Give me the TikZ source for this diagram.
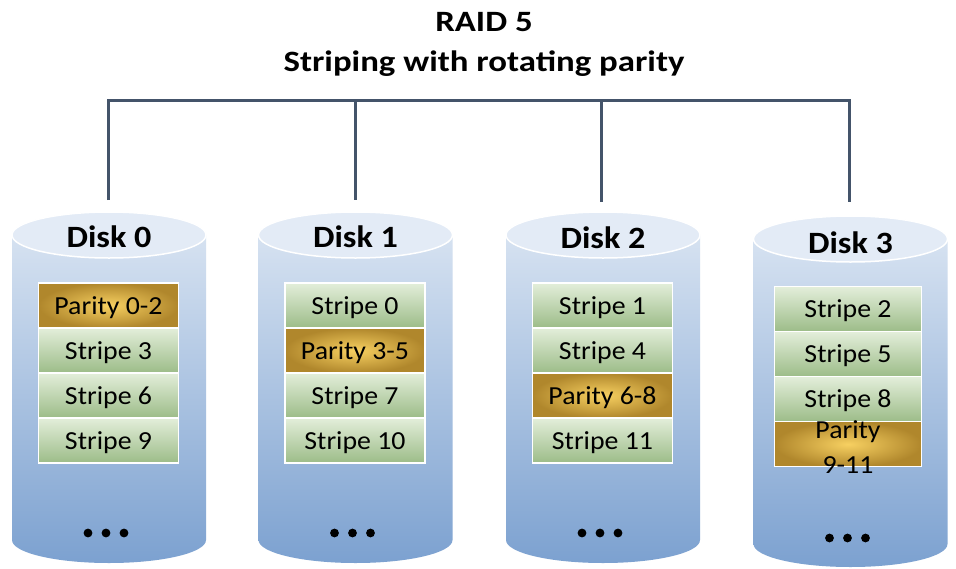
\documentclass[tikz,border=0pt]{standalone}
\usepackage{fontspec}
\setmainfont{Carlito}
\newfontfamily\titlefam[FakeStretch=1.18]{Carlito}
\newfontfamily\diskfam[FakeStretch=1.10]{Carlito}
\newfontfamily\blockfam[FakeStretch=1.07]{Carlito}
\definecolor{linecol}{HTML}{44546A}
\definecolor{diskTop}{HTML}{D6E2F1}
\definecolor{diskBot}{HTML}{7CA1D0}
\definecolor{diskCap}{HTML}{E3EBF6}
\definecolor{stripeTop}{HTML}{E3EEDA}
\definecolor{stripeBot}{HTML}{9CBC88}
\definecolor{parIn}{HTML}{F7D061}
\definecolor{parOut}{HTML}{B0872C}
\newcommand\mydisk[3]{% cx, top ellipse centre y, bottom ellipse centre y
  \shade[top color=diskTop,bottom color=diskBot]
    (#1-97,#2) -- (#1-97,#3)
    arc[start angle=180,end angle=360,x radius=97pt,y radius=23pt]
    -- (#1+97,#2) -- cycle;
  \draw[fill=diskCap,draw=white,line width=1.5pt] (#1,#2) ellipse [x radius=97pt,y radius=23pt];
}
\newcommand\mydots[2]{%
  \fill (#1-21,#2) circle (4.4pt) (#1-3,#2) circle (4.4pt) (#1+15,#2) circle (4.4pt);
}
\begin{document}
\begin{tikzpicture}[x=1pt,y=-1pt,
  linec/.style={draw=linecol,line width=3pt},
  titletext/.style={font=\titlefam\bfseries\fontsize{29.5}{34}\selectfont,anchor=base,inner sep=0pt},
  disklabel/.style={font=\diskfam\bfseries\fontsize{31}{38}\selectfont,anchor=base,inner sep=0pt},
  blockbase/.style={draw=white,line width=1.5pt,minimum height=45pt,inner sep=0pt,
    text height=17pt,text depth=0pt,font=\blockfam\fontsize{26}{30}\selectfont},
  stripebox/.style={blockbase,top color=stripeTop,bottom color=stripeBot},
  paritybox/.style={blockbase,inner color=parIn,outer color=parOut},
  plaintext/.style={font=\blockfam\fontsize{26}{30}\selectfont,anchor=base,inner sep=0pt}
]
\useasboundingbox (0,0) rectangle (956,568);
\fill[white] (0,0) rectangle (956,568);

% titles
\node[titletext] (title1) at (484,31.7) {RAID 5};
\node[titletext] (title2) at (484,71) {Striping with rotating parity};

% disks
\mydisk{109}{235}{540}
\mydisk{355.5}{235}{540}
\mydisk{603}{235}{540}
\mydisk{850.5}{239}{544}

\node[disklabel] (disk0) at (109,247) {Disk 0};
\node[disklabel] (disk1) at (355.5,247) {Disk 1};
\node[disklabel] (disk2) at (603,248) {Disk 2};
\node[disklabel] (disk3) at (850.5,253) {Disk 3};

% connectors
\coordinate (c0) at (108.5,200);
\coordinate (c1) at (355.5,200);
\coordinate (c2) at (601.5,202);
\coordinate (c3) at (849,202);
\coordinate (h0) at (108.5,100.5);
\coordinate (h1) at (355.5,100.5);
\coordinate (h2) at (601.5,100.5);
\coordinate (h3) at (849,100.5);
\draw[linec] (c0) -- (h0) -- (h3) -- (c3);
\draw[linec] (h1) -- (c1);
\draw[linec] (h2) -- (c2);

% disk 0 blocks
\node[paritybox,minimum width=140pt] (p02) at (108.5,305.5) {Parity 0-2};
\node[stripebox,minimum width=140pt] (s3) at (108.5,350.5) {Stripe 3};
\node[stripebox,minimum width=140pt] (s6) at (108.5,395.5) {Stripe 6};
\node[stripebox,minimum width=140pt] (s9) at (108.5,440.5) {Stripe 9};

% disk 1 blocks
\node[stripebox,minimum width=140pt] (s0) at (355,305.5) {Stripe 0};
\node[paritybox,minimum width=140pt] (p35) at (355,350.5) {Parity 3-5};
\node[stripebox,minimum width=140pt] (s7) at (355,395.5) {Stripe 7};
\node[stripebox,minimum width=140pt] (s10) at (355,440.5) {Stripe 10};

% disk 2 blocks
\node[stripebox,minimum width=140pt] (s1) at (602.5,305.5) {Stripe 1};
\node[stripebox,minimum width=140pt] (s4) at (602.5,350.5) {Stripe 4};
\node[paritybox,minimum width=140pt] (p68) at (602.5,395.5) {Parity 6-8};
\node[stripebox,minimum width=140pt] (s11) at (602.5,440.5) {Stripe 11};

% disk 3 blocks
\node[stripebox,minimum width=147pt] (s2) at (848,309.2) {Stripe 2};
\node[stripebox,minimum width=147pt] (s5) at (848,354.2) {Stripe 5};
\node[stripebox,minimum width=147pt] (s8) at (848,399.2) {Stripe 8};
\node[paritybox,minimum width=147pt] (p911) at (848,444.2) {};
\node[plaintext] (p911a) at (848,438) {Parity};
\node[plaintext] (p911b) at (848,473) {9-11};

% ellipsis dots
\mydots{109}{533}
\mydots{355.5}{533}
\mydots{603}{533}
\mydots{850.5}{538}
\end{tikzpicture}
\end{document}
